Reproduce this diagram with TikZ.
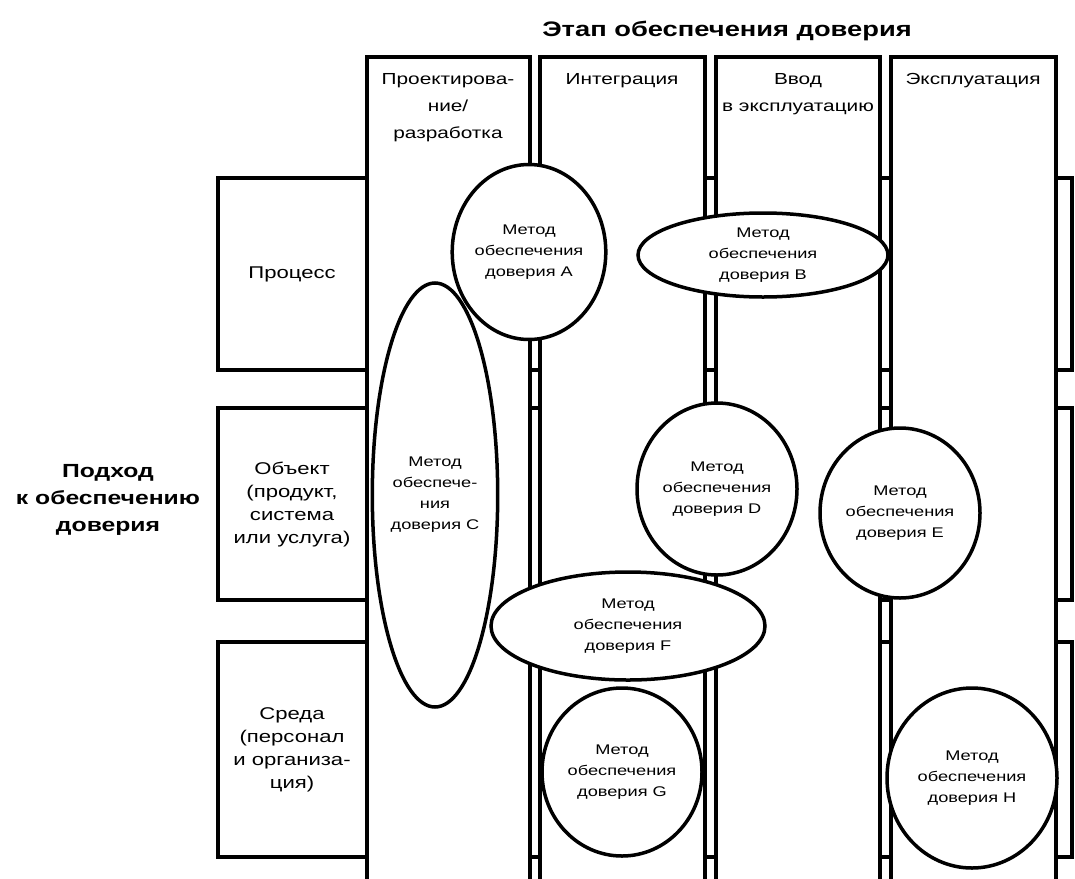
\documentclass[tikz,border=0pt]{standalone}
\usepackage{fontspec}
\setmainfont{Liberation Sans}[FakeStretch=1.3]
\usepackage{tikz}
\usetikzlibrary{shapes.geometric}
\tikzstyle{band}=[draw, fill=white, line width=3.5pt]
\tikzstyle{stage}=[draw, fill=white, line width=3.5pt]
\tikzstyle{rowtext}=[align=center, inner sep=0pt, font=\fontsize{17}{23}\selectfont]
\tikzstyle{headtext}=[align=center, inner sep=0pt, anchor=north, font=\fontsize{16}{27}\selectfont]
\tikzstyle{bigtext}=[align=center, inner sep=0pt, font=\bfseries\fontsize{19}{27}\selectfont]
\tikzstyle{method}=[ellipse, draw, fill=white, line width=3.5pt, inner sep=0pt, align=center, font=\fontsize{14}{21}\selectfont]

\begin{document}
\begin{tikzpicture}[x=1pt, y=-1pt]
		   \useasboundingbox (0,0) rectangle (1075,878);
		   \clip (0,0) rectangle (1075,878);
		   \begin{scope}
			   % rows
			   \draw[band] (218,178) rectangle (1072,370);
			   \draw[band] (218,408) rectangle (1072,600);
			   \draw[band] (218,642) rectangle (1072,857);
			   % stages
			   \draw[stage] (367,57) rectangle (530,900);
			   \draw[stage] (540,57) rectangle (705,900);
			   \draw[stage] (716,57) rectangle (880,900);
			   \draw[stage] (891,57) rectangle (1056,900);
		   \end{scope}
		   \begin{scope}
			   \node (title) at (727,31)[bigtext, font=\bfseries\fontsize{21}{25}\selectfont] {Этап обеспечения доверия};
			   \node (approach) at (108,500)[bigtext] {Подход\\к обеспечению\\доверия};

			   \node (proc) at (292,274)[rowtext] {Процесс};
			   \node (obj) at (292,505)[rowtext] {Объект\\(продукт,\\система\\или услуга)};
			   \node (env) at (292,750)[rowtext] {Среда\\(персонал\\и организа-\\ция)};

			   \node (hdesign) at (448,73)[headtext] {Проектирова-\\ние/\\разработка};
			   \node (hinteg) at (622,73)[headtext] {Интеграция};
			   \node (hcommis) at (798,73)[headtext] {Ввод\\в эксплуатацию};
			   \node (hoper) at (973,73)[headtext] {Эксплуатация};

			   \node (mA) at (529,252)[method, minimum width=150, minimum height=175] {Метод\\обеспечения\\доверия A};
			   \node (mB) at (763,255)[method, minimum width=250, minimum height=84] {Метод\\обеспечения\\доверия B};
			   \node (mC) at (435,495)[method, minimum width=108, minimum height=424] {Метод\\обеспече-\\ния\\доверия C};
			   \node (mD) at (717,489)[method, minimum width=160, minimum height=172] {Метод\\обеспечения\\доверия D};
			   \node (mE) at (900,513)[method, minimum width=160, minimum height=170] {Метод\\обеспечения\\доверия E};
			   \node (mF) at (628,626)[method, minimum width=274, minimum height=108] {Метод\\обеспечения\\доверия F};
			   \node (mG) at (622,772)[method, minimum width=160, minimum height=168] {Метод\\обеспечения\\доверия G};
			   \node (mH) at (972,778)[method, minimum width=170, minimum height=180] {Метод\\обеспечения\\доверия H};
		   \end{scope}
	   \end{tikzpicture}
\end{document}
